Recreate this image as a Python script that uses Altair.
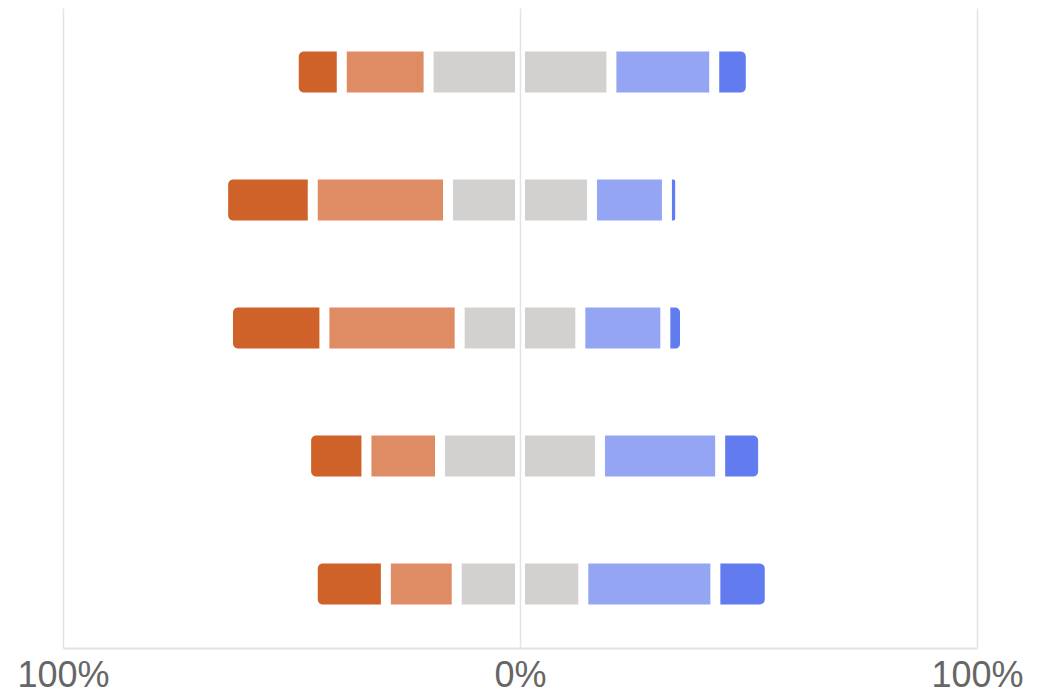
import altair as alt
import pandas as pd

questions = ["Q1", "Q2", "Q3", "Q4", "Q5"]
categories = ["Strongly disagree", "Disagree", "Neutral", "Agree", "Strongly agree"]
strongly_disagree = [10.5, 19.6, 21.1, 13.2, 16.0]
disagree = [19.0, 29.6, 29.6, 16.1, 15.5]
neutral = [40.0, 31.5, 26.4, 35.0, 27.7]
agree = [22.5, 16.4, 18.6, 26.3, 28.9]
strongly_agree = [8.0, 2.9, 4.3, 9.4, 11.9]
colors = ["#cf6228", "#df8c64", "#d2d1cf", "#d2d1cf", "#93a5f3", "#627bef"]

rows = []
for i, q in enumerate(questions):
    parts = [
        ("Strongly disagree", strongly_disagree[i]),
        ("Disagree", disagree[i]),
        ("Neutral (left)", neutral[i] / 2),
        ("Neutral (right)", neutral[i] / 2),
        ("Agree", agree[i]),
        ("Strongly agree", strongly_agree[i]),
    ]
    start = -(strongly_disagree[i] + disagree[i] + neutral[i] / 2)
    for order, (cat, v) in enumerate(parts):
        rows.append({"question": q, "type": cat, "order": order,
                     "start": start, "end": start + v})
        start += v
df = pd.DataFrame(rows)

seg_domain = ["Strongly disagree", "Disagree", "Neutral (left)", "Neutral (right)",
              "Agree", "Strongly agree"]

base = alt.Chart(df).encode(
    x=alt.X("start:Q",
            scale=alt.Scale(domain=[-100, 100], nice=False),
            axis=alt.Axis(values=[-100, 0, 100], title=None,
                          labelExpr="abs(datum.value) + '%'",
                          labelFlush=False, labelOverlap=False,
                          ticks=False, grid=True, gridColor="#e3e3e3", gridWidth=1.5,
                          domainColor="#e3e3e3", domainWidth=2,
                          labelFont="Liberation Sans", labelFontSize=36,
                          labelColor="#666666", labelPadding=10)),
    x2="end:Q",
    y=alt.Y("question:N", sort=questions, axis=None,
            scale=alt.Scale(paddingInner=0.68, paddingOuter=0.34)),
    color=alt.Color("type:N", scale=alt.Scale(domain=seg_domain, range=colors),
                    legend=None),
)

left = base.mark_bar(xOffset=5, x2Offset=-5, cornerRadiusTopLeft=5,
                     cornerRadiusBottomLeft=5).transform_filter(
    alt.datum.type == "Strongly disagree")
right = base.mark_bar(xOffset=5, x2Offset=-5, cornerRadiusTopRight=5,
                      cornerRadiusBottomRight=5).transform_filter(
    alt.datum.type == "Strongly agree")
middle = base.mark_bar(xOffset=5, x2Offset=-5).transform_filter(
    (alt.datum.type != "Strongly agree") & (alt.datum.type != "Strongly disagree"))

chart = alt.layer(middle, left, right).properties(
    width=914, height=640,
    autosize=alt.AutoSizeParams(type="none"),
    padding={"left": 55, "top": 0, "right": 66, "bottom": 60},
).configure_view(strokeWidth=0)

chart.save("out.html", embed_options={"renderer": "svg", "actions": False})
